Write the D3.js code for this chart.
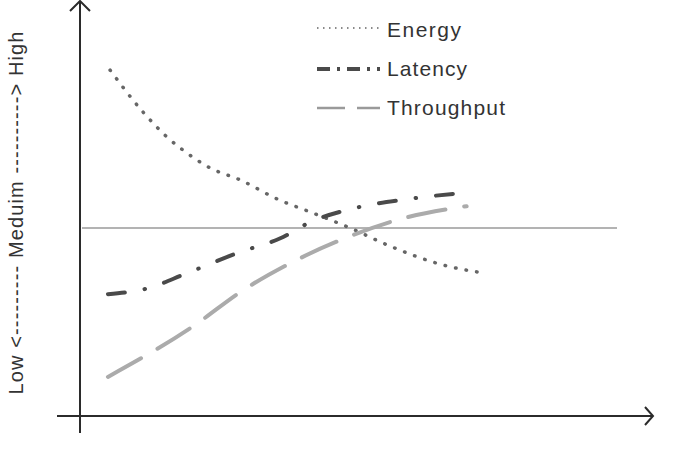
<!DOCTYPE html>
<html>
<head>
<meta charset="utf-8">
<script src="https://cdn.jsdelivr.net/npm/d3@7"></script>
<style>
  body { margin: 0; background: #fff; }
  svg { display: block; }
  text { font-family: Arial, "Liberation Sans", sans-serif; fill: #333; }
</style>
</head>
<body>
<div id="chart"></div>
<script>
// values: x in % of the axis run, y in % (50 = medium)
var energyX     = [5.6, 11.7, 16.2, 19.2, 24.2, 29.8, 37.2, 42.8, 50.3, 57.7, 67.0, 75.2]
var energyY     = [92.0, 80.9, 74.2, 70.7, 66.0, 62.8, 57.4, 54.3, 50.0, 45.2, 40.4, 38.0]
var latencyX    = [5.2, 12.7, 19.6, 29.8, 37.2, 43.4, 50.3, 61.1, 72.8]
var latencyY    = [32.4, 34.0, 37.8, 43.6, 47.2, 51.9, 55.0, 57.7, 59.5]
var throughputX = [5.2, 21.4, 30.2, 39.1, 49.9, 60.5, 72.0]
var throughputY = [10.4, 24.2, 33.3, 40.6, 47.6, 52.7, 55.8]
var seriesNames = ["Energy", "Latency", "Throughput"]
var medium = 50
var yLabel = "Low <--------- Meduim ----------> High"

var width = 688, height = 450

var svg = d3.select("#chart").append("svg")
	.attr("width", width)
	.attr("height", height)

var x = d3.scaleLinear().domain([0, 100]).range([80, 617])
var y = d3.scaleLinear().domain([0, 100]).range([416, 40])

// line styles (dotted / dash-dot / long dash)
var styles = {
	Energy:     { color: "#666", width: 3.5, dash: "0.5,10.2", cap: "round" },
	Latency:    { color: "#4a4a4a", width: 4, dash: "17,20,0.5,20", cap: "round" },
	Throughput: { color: "#ababab", width: 4, dash: "38,19", cap: "round" }
}

var data = [
	d3.zip(energyX, energyY),
	d3.zip(latencyX, latencyY),
	d3.zip(throughputX, throughputY)
]

// medium reference line
svg.append("line")
	.attr("x1", x(0) + 2).attr("x2", x(100))
	.attr("y1", y(medium)).attr("y2", y(medium))
	.style("stroke", "#9a9a9a")
	.style("stroke-width", 1.5)

var line = d3.line()
	.x(function(d){ return x(d[0]) })
	.y(function(d){ return y(d[1]) })
	.curve(d3.curveMonotoneX)

svg.selectAll("path.series")
	.data(data)
	.enter().append("path")
	.attr("class", "series")
	.attr("d", line)
	.style("fill", "none")
	.style("stroke", function(d, i){ return styles[seriesNames[i]].color })
	.style("stroke-width", function(d, i){ return styles[seriesNames[i]].width })
	.style("stroke-dasharray", function(d, i){ return styles[seriesNames[i]].dash })
	.style("stroke-linecap", function(d, i){ return styles[seriesNames[i]].cap })

// axes with arrow heads
var axisColor = "#2b2b2b"
var x0 = x(0), yBase = y(0)
svg.append("line")
	.attr("x1", x0).attr("x2", x0)
	.attr("y1", 1).attr("y2", 433)
	.style("stroke", axisColor).style("stroke-width", 2)
svg.append("path")
	.attr("d", "M" + (x0 - 10) + "," + 11 + "L" + x0 + "," + 1 + "L" + (x0 + 10) + "," + 11)
	.style("fill", "none").style("stroke", axisColor).style("stroke-width", 2)

svg.append("line")
	.attr("x1", 57).attr("x2", 653)
	.attr("y1", yBase).attr("y2", yBase)
	.style("stroke", axisColor).style("stroke-width", 2)
svg.append("path")
	.attr("d", "M" + 645 + "," + (yBase - 9) + "L" + 653 + "," + yBase + "L" + 645 + "," + (yBase + 9))
	.style("fill", "none").style("stroke", axisColor).style("stroke-width", 2)

// y label
svg.append("text")
	.attr("transform", "translate(23," + 213 + ") rotate(-90)")
	.attr("text-anchor", "middle")
	.attr("textLength", 363)
	.attr("lengthAdjust", "spacing")
	.style("font-size", "20px")
	.text(yLabel)

// legend
var legendY = [28, 69, 108]
var legendText = [37, 76, 115]
var legendW = [74, 80, 118]
var legendStyles = {
	Energy:     { dash: "1.5,4.5", width: 2, color: "#8a8a8a", cap: "butt" },
	Latency:    { dash: "13,7,3,7", width: 4, color: "#4a4a4a", cap: "butt" },
	Throughput: { dash: "28,12,23", width: 2.5, color: "#9a9a9a", cap: "butt" }
}
var legend = svg.selectAll("g.legend")
	.data(seriesNames)
	.enter().append("g")
	.attr("class", "legend")

legend.append("line")
	.attr("x1", 317).attr("x2", 380)
	.attr("y1", function(d, i){ return legendY[i] })
	.attr("y2", function(d, i){ return legendY[i] })
	.style("stroke", function(d){ return legendStyles[d].color })
	.style("stroke-width", function(d){ return legendStyles[d].width })
	.style("stroke-dasharray", function(d){ return legendStyles[d].dash })
	.style("stroke-linecap", function(d){ return legendStyles[d].cap })

legend.append("text")
	.attr("x", 387)
	.attr("y", function(d, i){ return legendText[i] })
	.attr("textLength", function(d, i){ return legendW[i] })
	.attr("lengthAdjust", "spacing")
	.style("font-size", "21px")
	.text(function(d){ return d })
</script>
</body>
</html>
